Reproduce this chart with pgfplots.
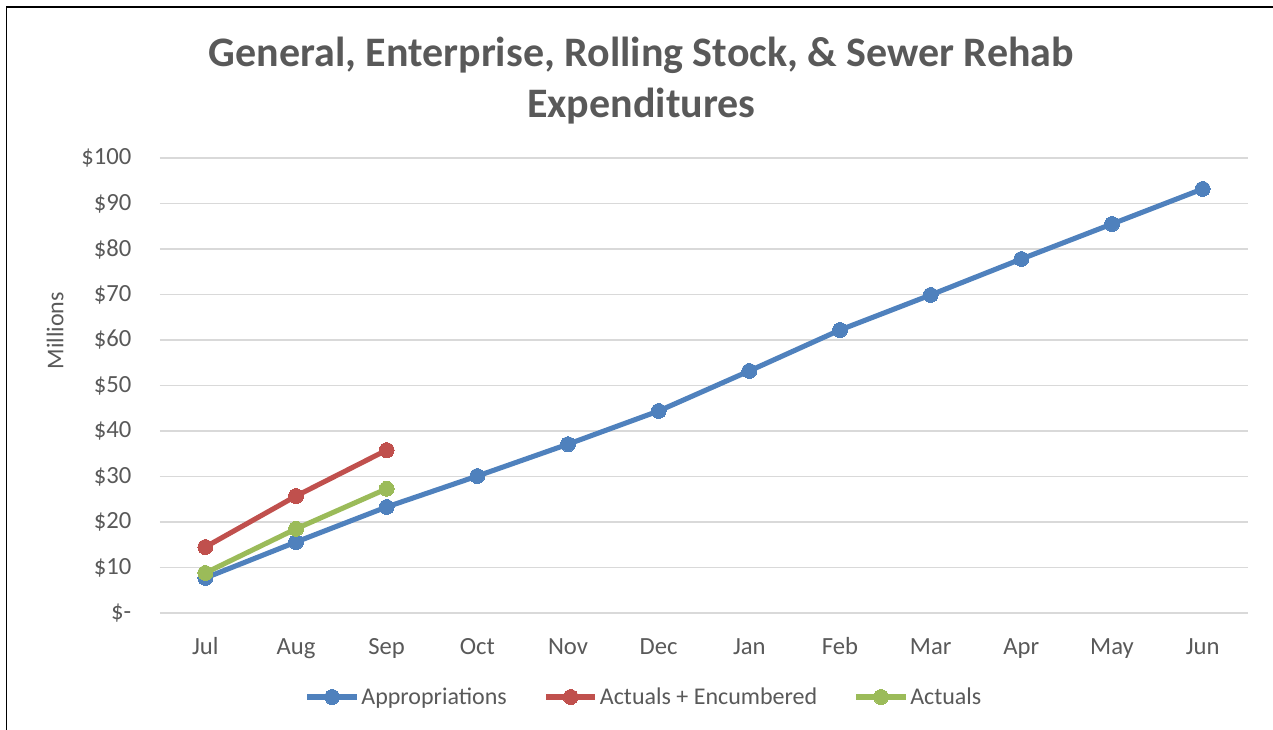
\documentclass[border=0pt]{standalone}
\usepackage{pgfplots}
\pgfplotsset{compat=1.18}
\usepackage{pgfplotstable}
\usepackage{fontspec}
\setmainfont{Carlito}

\definecolor{appblue}{HTML}{4F81BD}
\definecolor{encred}{HTML}{C0504D}
\definecolor{actgreen}{HTML}{9BBB59}
\definecolor{txtgray}{HTML}{595959}
\definecolor{gridgray}{HTML}{D9D9D9}

% month index, value in $ millions
\pgfplotstableread{
m  v
0  7.7
1  15.6
2  23.3
3  30.1
4  37.1
5  44.4
6  53.2
7  62.2
8  69.9
9  77.8
10 85.5
11 93.2
}\approp
\pgfplotstableread{
m  v
0  14.5
1  25.7
2  35.8
}\actenc
\pgfplotstableread{
m  v
0  8.8
1  18.5
2  27.3
}\actuals

\begin{document}
\begin{tikzpicture}
\useasboundingbox (-120pt,-87.75pt) rectangle (834.75pt,459.75pt);
\draw[line width=1.1pt, black] (-115.1pt,-100pt) -- (-115.1pt,454.6pt) -- (850pt,454.6pt);
\begin{axis}[
  at={(0pt,0pt)}, anchor=south west,
  scale only axis, width=816pt, height=341.25pt,
  xmin=-0.5, xmax=11.5, ymin=0, ymax=100,
  xtick={0,...,11},
  xticklabels={Jul,Aug,Sep,Oct,Nov,Dec,Jan,Feb,Mar,Apr,May,Jun},
  ytick={0,10,...,100},
  yticklabels={\$-,\$10,\$20,\$30,\$40,\$50,\$60,\$70,\$80,\$90,\$100},
  major tick length=0pt,
  axis line style={draw=none},
  ymajorgrids, grid style={gridgray, line width=1.2pt},
  tick label style={font=\fontsize{18.5}{21}\selectfont, text=txtgray},
  xticklabel style={anchor=base, yshift=-31pt},
  yticklabel style={xshift=-18pt},
  ylabel={Millions},
  ylabel style={font=\fontsize{18}{21}\selectfont, text=txtgray, at={(rel axis cs:-0.0965,0.62)}, anchor=center, rotate=0},
  legend columns=3,
  legend style={draw=none, fill=none, at={(0.445,-0.1846)}, anchor=center,
    font=\fontsize{18}{21}\selectfont, text=txtgray,
    /tikz/every even column/.append style={column sep=26pt},
    nodes={inner sep=1.5pt}},
  legend image code/.code={
    \draw[mark repeat=2, mark phase=2] plot coordinates {(0pt,0pt) (18.5pt,0pt) (37pt,0pt)};},
  every axis plot/.append style={line width=3.8pt, mark=*, mark size=5.6pt},
  clip=false,
]
\addplot[appblue, mark options={fill=appblue, draw=appblue, line width=0pt}] table[x=m, y=v] {\approp};
\addlegendentry{Appropriations}
\addplot[encred, mark options={fill=encred, draw=encred, line width=0pt}] table[x=m, y=v] {\actenc};
\addlegendentry{Actuals + Encumbered}
\addplot[actgreen, mark options={fill=actgreen, draw=actgreen, line width=0pt}] table[x=m, y=v] {\actuals};
\addlegendentry{Actuals}
\end{axis}
\node[anchor=base, font=\fontsize{31.5}{36}\selectfont\bfseries, text=txtgray] at (361pt,409.5pt) {General, Enterprise, Rolling Stock, \& Sewer Rehab};
\node[anchor=base, font=\fontsize{31.5}{36}\selectfont\bfseries, text=txtgray] at (361pt,371.25pt) {Expenditures};
\end{tikzpicture}
\end{document}
